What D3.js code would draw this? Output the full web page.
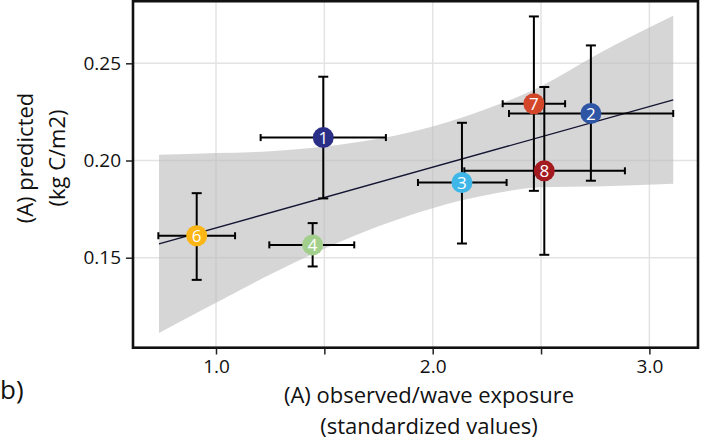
<!DOCTYPE html>
<html><head><meta charset="utf-8">
<script src="https://cdn.jsdelivr.net/npm/d3@7"></script>
<style>body{margin:0;background:#fff}svg{display:block}</style>
</head><body><svg id="c" width="703" height="445"></svg>
<script>
// ---- data ----
const siteIds = ["1","2","3","4","6","7","8"];
const siteColors = ["#2b2e86","#2f55a5","#3fb6e8","#a3cf8c","#fbb616","#d4462a","#a31b21"];
const observed     = [1.495, 2.730, 2.135, 1.446, 0.911, 2.467, 2.515];
const observedLow  = [1.206, 2.352, 1.932, 1.246, 0.734, 2.323, 2.146];
const observedHigh = [1.784, 3.110, 2.341, 1.638, 1.088, 2.611, 2.887];
const predicted     = [0.2118, 0.2242, 0.1887, 0.1566, 0.1613, 0.2292, 0.1947];
const predictedLow  = [0.1805, 0.1896, 0.1573, 0.1455, 0.1386, 0.1844, 0.1515];
const predictedHigh = [0.2431, 0.2592, 0.2194, 0.1678, 0.1832, 0.2741, 0.2378];
const fitX = [0.737, 3.110];
const fitY = [0.1571, 0.2312];
const bandX    = [0.737, 1.0, 1.25, 1.5, 1.75, 2.0, 2.25, 2.5, 2.75, 3.11];
const bandLow  = [0.1113, 0.1268, 0.1414, 0.1546, 0.1662, 0.1755, 0.1822, 0.1862, 0.1866, 0.1880];
const bandHigh = [0.2029, 0.2038, 0.2048, 0.2072, 0.2112, 0.2175, 0.2266, 0.2382, 0.2540, 0.2744];
const xTicks = [1.0, 1.5, 2.0, 2.5, 3.0];
const xTickLabels = ["1.0", "", "2.0", "", "3.0"];
const yTicks = [0.15, 0.20, 0.25];
const yTickLabels = ["0.15", "0.20", "0.25"];
const xTitle = ["(A) observed/wave exposure", "(standardized values)"];
const yTitle = ["(A) predicted", "(kg C/m2)"];
const panelTag = "b)";

// ---- layout ----
const L = 133, R = 698, T = 1, B = 347.5;
const svg = d3.select("#c");
const FONT = "'Open Sans', sans-serif";
const x = d3.scaleLinear().domain([0.6170, 3.2243]).range([L, R]);
const y = d3.scaleLinear().domain([0.10381, 0.28205]).range([B, T]);

// grid
const grid = svg.append("g");
grid.selectAll("line.vx").data(xTicks).join("line")
  .attr("x1", d => x(d)).attr("x2", d => x(d)).attr("y1", T).attr("y2", B)
  .attr("stroke", "#e3e3e3").attr("stroke-width", 1.5);
grid.selectAll("line.hy").data(yTicks).join("line")
  .attr("y1", d => y(d)).attr("y2", d => y(d)).attr("x1", L).attr("x2", R)
  .attr("stroke", "#e3e3e3").attr("stroke-width", 1.5);

// confidence band
const bandData = bandX.map((v, i) => ({x: v, lo: bandLow[i], hi: bandHigh[i]}));
svg.append("path").datum(bandData)
  .attr("d", d3.area().x(d => x(d.x)).y0(d => y(d.lo)).y1(d => y(d.hi)).curve(d3.curveMonotoneX))
  .attr("fill", "#bdbdbd").attr("fill-opacity", 0.62);

// fit line
svg.append("line")
  .attr("x1", x(fitX[0])).attr("y1", y(fitY[0])).attr("x2", x(fitX[1])).attr("y2", y(fitY[1]))
  .attr("stroke", "#141433").attr("stroke-width", 1.4);

// error bars
const pts = siteIds.map((id, i) => ({id, c: siteColors[i], x: observed[i], xl: observedLow[i], xh: observedHigh[i],
  y: predicted[i], yl: predictedLow[i], yh: predictedHigh[i]}));
const eb = svg.append("g").attr("stroke", "#000").attr("stroke-width", 2);
pts.forEach(p => {
  eb.append("line").attr("x1", x(p.x)).attr("x2", x(p.x)).attr("y1", y(p.yl)).attr("y2", y(p.yh));
  eb.append("line").attr("x1", x(p.x) - 5).attr("x2", x(p.x) + 5).attr("y1", y(p.yl)).attr("y2", y(p.yl));
  eb.append("line").attr("x1", x(p.x) - 5).attr("x2", x(p.x) + 5).attr("y1", y(p.yh)).attr("y2", y(p.yh));
  eb.append("line").attr("y1", y(p.y)).attr("y2", y(p.y)).attr("x1", x(p.xl)).attr("x2", x(p.xh));
  eb.append("line").attr("y1", y(p.y) - 3.5).attr("y2", y(p.y) + 3.5).attr("x1", x(p.xl)).attr("x2", x(p.xl));
  eb.append("line").attr("y1", y(p.y) - 3.5).attr("y2", y(p.y) + 3.5).attr("x1", x(p.xh)).attr("x2", x(p.xh));
});

// points
const pg = svg.append("g");
pg.selectAll("circle").data(pts).join("circle")
  .attr("cx", d => x(d.x)).attr("cy", d => y(d.y)).attr("r", 10.5).attr("fill", d => d.c);
pg.selectAll("text").data(pts).join("text")
  .attr("x", d => x(d.x)).attr("y", d => y(d.y)).attr("dy", "0.36em")
  .attr("text-anchor", "middle").attr("fill", "#fff")
  .attr("font-family", FONT).attr("font-size", 17).text(d => d.id);

// frame
svg.append("rect").attr("x", L).attr("y", T + 0.2).attr("width", R - L).attr("height", B - T)
  .attr("fill", "none").attr("stroke", "#111").attr("stroke-width", 2.6);

// axes
const xAxis = d3.axisBottom(x).tickValues(xTicks).tickFormat((d, i) => xTickLabels[i]).tickSize(6).tickPadding(5);
const gx = svg.append("g").attr("transform", `translate(0,${B + 1})`).call(xAxis);
gx.select(".domain").remove();
gx.selectAll("line").attr("stroke", "#222").attr("stroke-width", 1.5);
gx.selectAll("text").attr("font-family", FONT).attr("font-size", 19).attr("fill", "#111");

const yAxis = d3.axisLeft(y).tickValues(yTicks).tickFormat((d, i) => yTickLabels[i]).tickSize(6).tickPadding(5);
const gy = svg.append("g").attr("transform", `translate(${L - 1},0)`).call(yAxis);
gy.select(".domain").remove();
gy.selectAll("line").attr("stroke", "#222").attr("stroke-width", 1.5);
gy.selectAll("text").attr("font-family", FONT).attr("font-size", 19).attr("fill", "#111");

// titles
const tx = svg.append("text").attr("text-anchor", "middle").attr("font-family", FONT)
  .attr("font-size", 22).attr("fill", "#111");
tx.append("tspan").attr("x", 429).attr("y", 403).text(xTitle[0]);
tx.append("tspan").attr("x", 429).attr("y", 434).text(xTitle[1]);

const ty = svg.append("text").attr("text-anchor", "middle").attr("font-family", FONT)
  .attr("font-size", 22).attr("fill", "#111").attr("transform", "translate(0,158) rotate(-90)");
ty.append("tspan").attr("x", 0).attr("y", 33).text(yTitle[0]);
ty.append("tspan").attr("x", 0).attr("y", 65).text(yTitle[1]);

svg.append("text").attr("x", 0).attr("y", 399).attr("font-family", FONT)
  .attr("font-size", 26).attr("fill", "#111").text(panelTag);
</script></body></html>
